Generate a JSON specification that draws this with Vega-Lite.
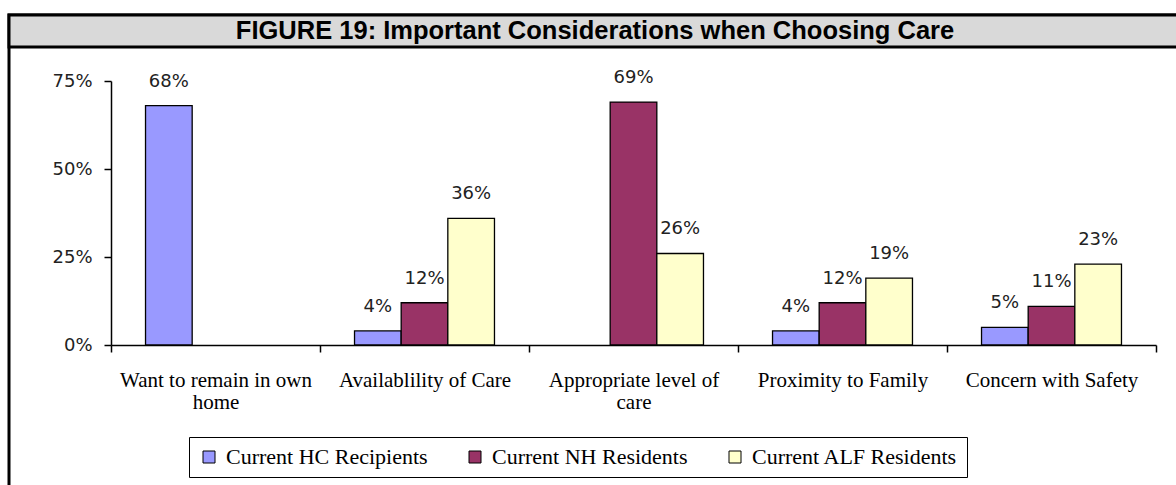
{
  "$schema": "https://vega.github.io/schema/vega-lite/v6.json",
  "width": 1172,
  "height": 495,
  "autosize": {"type": "none"},
  "padding": {"left": 9, "top": 15, "right": -5, "bottom": -25},
  "background": "white",
  "config": {
    "view": {"stroke": "black", "strokeWidth": 3, "fill": "white"}
  },
  "datasets": {
    "care": [
      {"cat": "Want to remain in own home", "series": "Current HC Recipients", "value": 68},
      {"cat": "Availablility of Care", "series": "Current HC Recipients", "value": 4},
      {"cat": "Availablility of Care", "series": "Current NH Residents", "value": 12},
      {"cat": "Availablility of Care", "series": "Current ALF Residents", "value": 36},
      {"cat": "Appropriate level of care", "series": "Current NH Residents", "value": 69},
      {"cat": "Appropriate level of care", "series": "Current ALF Residents", "value": 26},
      {"cat": "Proximity to Family", "series": "Current HC Recipients", "value": 4},
      {"cat": "Proximity to Family", "series": "Current NH Residents", "value": 12},
      {"cat": "Proximity to Family", "series": "Current ALF Residents", "value": 19},
      {"cat": "Concern with Safety", "series": "Current HC Recipients", "value": 5},
      {"cat": "Concern with Safety", "series": "Current NH Residents", "value": 11},
      {"cat": "Concern with Safety", "series": "Current ALF Residents", "value": 23}
    ],
    "title": [{"t": "FIGURE 19: Important Considerations when Choosing Care"}]
  },
  "layer": [
    {
      "data": {"name": "care"},
      "mark": {"type": "bar", "stroke": "black", "strokeWidth": 1.3},
      "encoding": {
        "x": {
          "field": "cat", "type": "nominal",
          "sort": ["Want to remain in own home", "Availablility of Care", "Appropriate level of care", "Proximity to Family", "Concern with Safety"],
          "scale": {"range": [102, 1147], "paddingInner": 0, "paddingOuter": 0},
          "axis": {
            "orient": "bottom", "offset": -165, "title": null, "labelAngle": 0,
            "tickBand": "extent", "domainColor": "black", "domainWidth": 1.5,
            "tickColor": "black", "tickWidth": 1.5, "tickSize": 7,
            "labelFont": "Liberation Serif", "labelFontSize": 21, "labelColor": "black",
            "labelPadding": 17, "labelBaseline": "top", "labelLineHeight": 22,
            "labelLimit": 400, "labelOverlap": false,
            "labelExpr": "datum.label == 'Want to remain in own home' ? ['Want to remain in own', 'home'] : datum.label == 'Appropriate level of care' ? ['Appropriate level of', 'care'] : datum.label"
          }
        },
        "xOffset": {
          "field": "series", "type": "nominal",
          "scale": {"domain": ["Current HC Recipients", "Current NH Residents", "Current ALF Residents"], "paddingInner": 0, "paddingOuter": 0.74}
        },
        "y": {
          "field": "value", "type": "quantitative",
          "scale": {"domain": [0, 75], "range": [330, 66], "nice": false, "zero": true},
          "axis": {
            "orient": "left", "offset": -102, "title": null, "grid": false,
            "values": [0, 25, 50, 75], "labelExpr": "datum.value + '%'",
            "domainColor": "black", "domainWidth": 1.5,
            "tickColor": "black", "tickWidth": 1.5, "tickSize": 7,
            "labelFont": "DejaVu Sans", "labelFontSize": 18, "labelColor": "#222",
            "labelPadding": 12
          }
        },
        "color": {
          "field": "series", "type": "nominal",
          "scale": {"domain": ["Current HC Recipients", "Current NH Residents", "Current ALF Residents"], "range": ["#9999FF", "#993366", "#FFFFCC"]},
          "legend": {
            "orient": "none", "legendX": 180, "legendY": 422, "direction": "horizontal",
            "title": null, "strokeColor": "black", "padding": 9,
            "symbolType": "square", "symbolSize": 144, "symbolStrokeColor": "black", "symbolStrokeWidth": 1,
            "labelFont": "Liberation Serif", "labelFontSize": 22, "labelColor": "black",
            "labelOffset": 6, "columnPadding": 36, "labelLimit": 400
          }
        }
      }
    },
    {
      "data": {"name": "care"},
      "transform": [{"calculate": "datum.value + '%'", "as": "lbl"}],
      "mark": {"type": "text", "baseline": "middle", "dy": -24, "font": "DejaVu Sans", "fontSize": 18, "fill": "#222"},
      "encoding": {
        "x": {"field": "cat", "type": "nominal", "sort": ["Want to remain in own home", "Availablility of Care", "Appropriate level of care", "Proximity to Family", "Concern with Safety"]},
        "xOffset": {"field": "series", "type": "nominal"},
        "y": {"field": "value", "type": "quantitative"},
        "text": {"field": "lbl"}
      }
    },
    {
      "data": {"name": "title"},
      "mark": {"type": "rect", "fill": "#D9D9D9", "stroke": "black", "strokeWidth": 3},
      "encoding": {
        "y": {"datum": 93.75, "type": "quantitative"},
        "y2": {"datum": 84.66}
      }
    },
    {
      "data": {"name": "title"},
      "mark": {"type": "text", "baseline": "middle", "align": "center", "font": "Liberation Sans", "fontWeight": "bold", "fontSize": 25.5, "fill": "black"},
      "encoding": {
        "y": {"datum": 89.2, "type": "quantitative"},
        "text": {"field": "t"}
      }
    }
  ]
}
